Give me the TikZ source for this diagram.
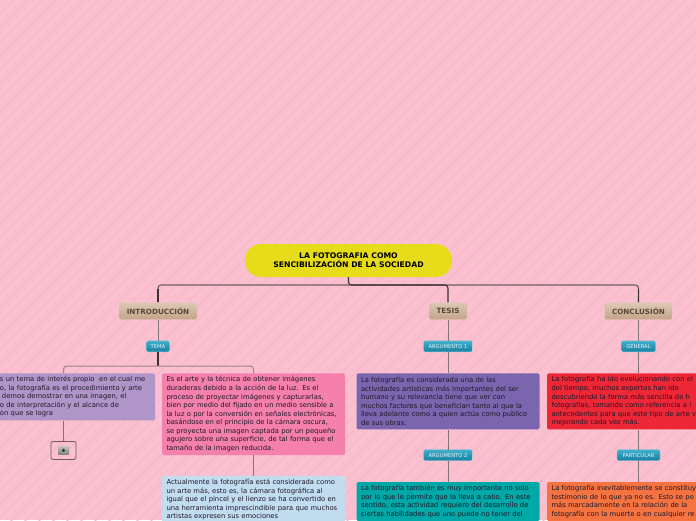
\documentclass[tikz,border=0pt]{standalone}
\usepackage{fontspec}
\setmainfont{DejaVu Sans}
\usepackage{tikz}
\usetikzlibrary{positioning}
\definecolor{pinkbg}{HTML}{FAC0CF}
\definecolor{stripebg}{HTML}{F6B8C9}
\definecolor{darkline}{HTML}{3A2F35}
\definecolor{midline}{HTML}{6E5C64}
\definecolor{softline}{HTML}{A5818D}
\definecolor{greyline}{HTML}{85737B}

\begin{document}
\begin{tikzpicture}[
      x=1pt, y=-1pt,
      node distance=21pt,
      title/.style={rectangle, fill={rgb,255:red,230;green,220;blue,26}, rounded corners=16pt,
      minimum width=207pt, minimum height=33pt, align=center, inner sep=0pt,
      font=\fontsize{7.7}{9}\selectfont\bfseries},
      sect/.style={rectangle, draw={rgb,255:red,229;green,207;blue,190}, rounded corners=1.5pt, top color={rgb,255:red,222;green,200;blue,180},
      bottom color={rgb,255:red,194;green,164;blue,138}, minimum height=17pt, inner xsep=0pt, inner ysep=0pt,
      text={rgb,255:red,88;green,72;blue,58}, font=\fontsize{7.2}{9}\selectfont\bfseries},
      tag/.style={rectangle, draw={rgb,255:red,125;green,200;blue,218}, rounded corners=1.5pt, top color={rgb,255:red,66;green,176;blue,204},
      bottom color={rgb,255:red,26;green,126;blue,158}, minimum height=11pt, inner xsep=0pt, inner ysep=0pt,
      text={rgb,255:red,225;green,245;blue,250}, font=\fontsize{5.2}{6}\selectfont},
      note/.style={rectangle, rounded corners=1.5pt, text width=174pt, inner xsep=4.5pt, inner ysep=0pt,
      align=left, text={rgb,255:red,30;green,24;blue,40}, font=\fontsize{6.8}{8.56}\selectfont},
      bus/.style={midline, line width=1.1pt},
      link/.style={greyline, line width=1pt},
      stem/.style={darkline, line width=1.1pt},
      thin/.style={softline, line width=1pt}]
    \useasboundingbox (0,0) rectangle (696,520);
    \clip (0,0) rectangle (696,520);
    \fill[pinkbg] (0,0) rectangle (696,520);
    \foreach \k in {0,14,...,1230}
      \draw[stripebg, line width=1.2pt] (\k,0) -- (\k-530,530);

    \node[title] (tit) at (348.5,260.5) {LA FOTOGRAFIA COMO\\SENCIBILIZACIÓN DE LA SOCIEDAD};
    \node[sect, minimum width=78pt] (intro) at (158,311) {INTRODUCCIÓN};
    \node[sect, minimum width=38pt] (tesis) at (448,311) {TESIS};
    \node[sect, minimum width=68pt] (concl) at (638.5,311) {CONCLUSIÓN};

    \node[tag, minimum width=23pt, below=of intro] (tema) {TEMA};
    \node[tag, minimum width=49pt, below=of tesis] (arg1) {ARGUMENTO 1};
    \node[tag, minimum width=34pt, below=of concl] (gen) {GENERAL};

    \node[note, fill={rgb,255:red,176;green,150;blue,200}, minimum height=47pt, below=of tema, xshift=-94.5pt] (purple)
      {\hspace*{23.5pt}s un tema de interés propio~ en el cual me\\
       \hspace*{23.5pt}o, la fotografía es el procedimiento y arte\\
       \hspace*{25.5pt}demos demostrar en una imagen, el\\
       \hspace*{23.5pt}o de interpretación y el alcance de\\
       \hspace*{23.5pt}on que se logra};
    \node[note, fill={rgb,255:red,245;green,128;blue,172}, minimum height=81.7pt, below=of tema, xshift=95.5pt] (pink)
      {Es el arte y la técnica de obtener imágenes\\
       duraderas debido a la acción de la luz. Es el\\
       proceso de proyectar imágenes y capturarlas,\\
       bien por medio del fijado en un medio sensible a\\
       la luz o por la conversión en señales electrónicas,\\
       basándose en el principio de la cámara oscura,\\
       se proyecta una imagen captada por un pequeño\\
       agujero sobre una superficie, de tal forma que el\\
       tamaño de la imagen reducida.};
    \node[note, fill={rgb,255:red,194;green,221;blue,240}, minimum height=47.5pt, below=20.5pt of pink] (blue)
      {Actualmente la fotografía está considerada como\\
       un arte más, esto es, la cámara fotográfica al\\
       igual que el pincel y el lienzo se ha convertido en\\
       una herramienta imprescindible para que muchos\\
       artistas expresen sus emociones};
    \node[note, fill={rgb,255:red,123;green,101;blue,174}, minimum height=56pt, below=of arg1] (violet)
      {La fotografía es considerada una de las\\
       actividades artísticas más importantes del ser\\
       humano y su relevancia tiene que ver con\\
       muchos factores que benefician tanto al que la\\
       lleva adelante como a quien actúa como publico\\
       de sus obras.};
    \node[note, fill={rgb,255:red,238;green,39;blue,55}, minimum height=56pt, below=of gen] (red)
      {La fotografía ha ido evolucionando con el\\
       del tiempo, muchos expertos han ido\\
       descubriendo la forma más sencilla de h\\
       fotografías, tomando como referencia a l\\
       antecedentes para que este tipo de arte v\\
       mejorando cada vez más.};

    \node[tag, minimum width=49pt, below=20pt of violet] (arg2) {ARGUMENTO 2};
    \node[tag, minimum width=43pt, below=20pt of red] (part) {PARTICULAR};
    \node[note, fill={rgb,255:red,0;green,168;blue,168}, minimum height=39pt, below=of arg2] (teal)
      {La fotografía también es muy importante no solo\\
       por lo que le permite que la lleva a cabo. En este\\
       sentido, esta actividad requiere del desarrollo de\\
       ciertas habilidades que uno puede no tener del};
    \node[note, fill={rgb,255:red,244;green,115;blue,64}, minimum height=39pt, below=of part] (orange)
      {La fotografía inevitablemente se constituy\\
       testimonio de lo que ya no es. Esto se pe\\
       más marcadamente en la relación de la\\
       fotografía con la muerte o en cualquier re};

    \node[rectangle, draw=midline, line width=0.8pt, rounded corners=2pt, minimum width=25pt, minimum height=18pt,
      below=20.5pt of purple] (cam) {};
    \node[rectangle, top color=black!25, bottom color=black!50, minimum width=11pt, minimum height=8pt, inner sep=0pt] (body) at (cam) {};
    \node[circle, fill=black!80, minimum size=3.5pt, inner sep=0pt] (lens) at (cam) {};

    \coordinate[below=14pt of tema] (fork);
    \coordinate (busl) at (intro.north |- 0,285);
    \coordinate (busr) at (concl.north |- 0,285);
    \draw[bus, rounded corners=3pt] (intro.north) |- (busr) -- (concl.north);
    \draw[stem, rounded corners=3pt] (tit.south) |- (tesis.north |- busl) -- (tesis.north);
    \draw[stem] (intro.north) -- ++(0,-13);
    \draw[stem] (concl.north) -- ++(0,-13);
    \draw[link] (intro) -- (tema);
    \draw[link] (tesis) -- (arg1);
    \draw[link] (concl) -- (gen);
    \draw[link] (arg1) -- (violet);
    \draw[link] (gen) -- (red);
    \draw[link] (violet) -- (arg2);
    \draw[link] (red) -- (part);
    \draw[link] (arg2) -- (teal);
    \draw[link] (part) -- (orange);
    \draw[stem] (tema) -- (fork);
    \draw[thin, rounded corners=3pt] (purple.north) |- (fork);
    \draw[thin, rounded corners=3pt] (fork) -| (pink.north);
    \draw[link] (purple.south -| cam.north) -- (cam.north);
    \draw[link] (pink) -- (blue);
  \end{tikzpicture}
\end{document}
